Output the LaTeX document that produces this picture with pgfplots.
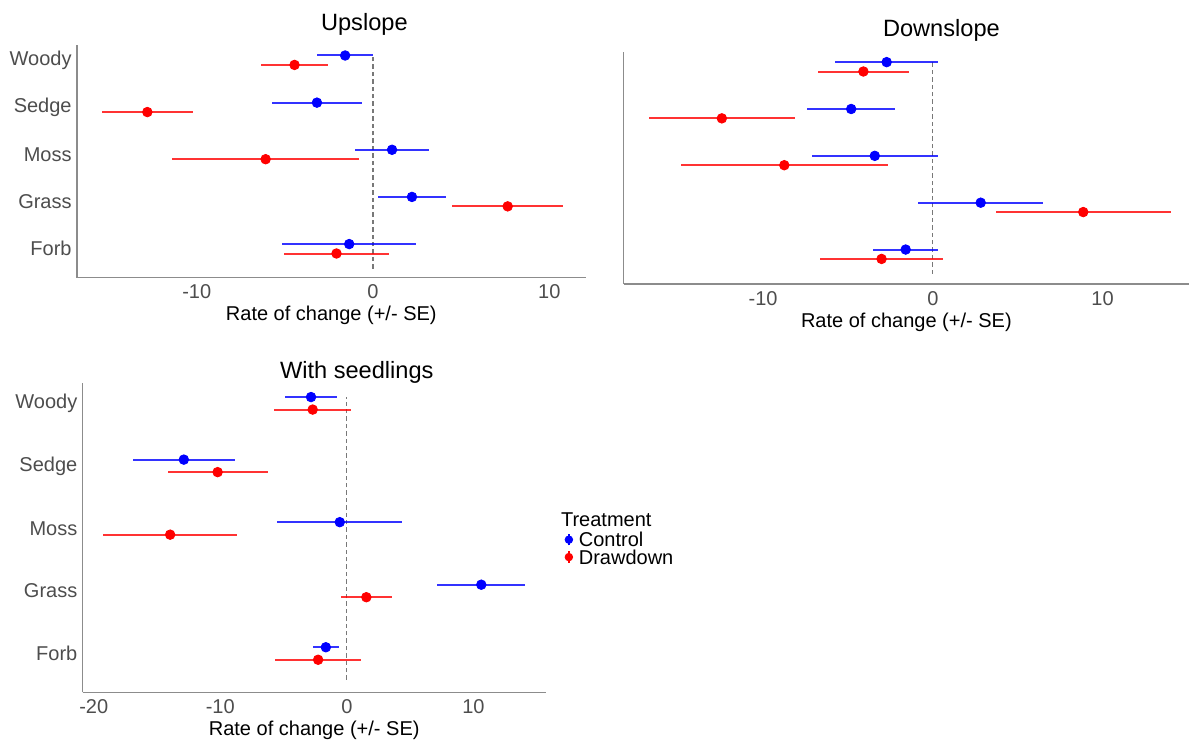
\documentclass[border=0pt]{standalone}
\usepackage{fontspec}
\setmainfont{Liberation Sans}
\usepackage{pgfplots}
\pgfplotsset{compat=1.18}
\usepackage{pgfplotstable}

\definecolor{ctrl}{RGB}{0,0,255}
\definecolor{drw}{RGB}{255,0,0}
\definecolor{axgray}{RGB}{140,140,140}
\definecolor{tickgray}{RGB}{77,77,77}
\definecolor{vgray}{RGB}{120,120,120}

% x = rate of change, y = category position (Forb=1 ... Woody=5, dodged), se = standard error
\pgfplotstableread{
x y se
-1.58 5.1 1.59
-3.18 4.1 2.53
1.08 3.1 2.10
2.21 2.1 1.95
-1.35 1.1 3.80
}\upC
\pgfplotstableread{
x y se
-4.45 4.9 1.90
-12.80 3.9 2.60
-6.09 2.9 5.31
7.64 1.9 3.14
-2.07 0.9 2.95
}\upD
\pgfplotstableread{
x y se
-2.72 5.1 3.03
-4.81 4.1 2.60
-3.42 3.1 3.71
2.82 2.1 3.68
-1.60 1.1 1.92
}\downC
\pgfplotstableread{
x y se
-4.09 4.9 2.69
-12.43 3.9 4.30
-8.75 2.9 6.09
8.86 1.9 5.16
-3.02 0.9 3.60
}\downD
\pgfplotstableread{
x y se
-2.83 5.1 2.02
-12.88 4.1 4.05
-0.56 3.1 4.95
10.62 2.1 3.48
-1.66 1.1 1.03
}\seedC
\pgfplotstableread{
x y se
-2.70 4.9 3.05
-10.21 3.9 3.96
-13.96 2.9 5.27
1.54 1.9 2.00
-2.27 0.9 3.38
}\seedD

\pgfplotsset{
  panel/.style={
    scale only axis,
    axis x line*=bottom, axis y line*=left,
    axis line style={axgray, line width=0.7pt, -},
    major tick length=0pt, minor tick num=0,
    tick label style={font=\fontsize{10}{12}\selectfont, text=tickgray},
    xticklabel style={anchor=base, yshift=-10.6pt},
    yticklabel style={anchor=east, inner sep=0pt, xshift=-2.5pt},
    ytick={1,2,3,4,5},
    yticklabels={Forb,Grass,Moss,Sedge,Woody},
    xlabel={Rate of change (+/- SE)},
    xlabel style={font=\fontsize{10}{12}\selectfont, at={(axis description cs:0.5,0)}, anchor=base, yshift=-21.6pt},
    title style={font=\fontsize{11.8}{14}\selectfont, anchor=base},
    clip=false,
  },
  ctrlplot/.style={only marks, mark=*, mark size=2.4pt, color=ctrl, forget plot,
    error bars/.cd, x dir=both, x explicit, error mark=none,
    error bar style={line width=1pt, ctrl, opacity=0.8}},
  drwplot/.style={only marks, mark=*, mark size=2.4pt, color=drw, forget plot,
    error bars/.cd, x dir=both, x explicit, error mark=none,
    error bar style={line width=1pt, drw, opacity=0.8}},
  zeroline/.style={forget plot, vgray, line width=0.55pt, dash pattern=on 2.2pt off 1.5pt},
}

\begin{document}
\begin{tikzpicture}
\useasboundingbox (0pt,0pt) rectangle (594.5pt,371pt);

% Upslope
\begin{axis}[panel,
  at={(38.5pt,232.15pt)}, anchor=south west,
  width=254.3pt, height=116.35pt,
  xmin=-16.79, xmax=12.06, ymin=0.387, ymax=5.323,
  xtick={-10,0,10}, xticklabels={-10,0,10},
  title={Upslope},
  title style={at={(axis description cs:0.565,1)}, yshift=1.45pt},
]
\addplot[zeroline] coordinates {(0,0.58) (0,5.1)};
\addplot[ctrlplot] table[x=x, y=y, x error=se] {\upC};
\addplot[drwplot] table[x=x, y=y, x error=se] {\upD};
\end{axis}

% Downslope
\begin{axis}[panel,
  at={(311.85pt,229pt)}, anchor=south west,
  width=282.65pt, height=116.15pt,
  xmin=-18.21, xmax=15.09, ymin=0.365, ymax=5.323,
  xtick={-10,0,10}, xticklabels={-10,0,10},
  ytick=\empty,
  title={Downslope},
  title style={at={(axis description cs:0.562,1)}, yshift=1.5pt},
]
\addplot[zeroline] coordinates {(0,0.58) (0,5.1)};
\addplot[ctrlplot] table[x=x, y=y, x error=se] {\downC};
\addplot[drwplot] table[x=x, y=y, x error=se] {\downD};
\end{axis}

% With seedlings
\begin{axis}[panel,
  at={(41.35pt,24.85pt)}, anchor=south west,
  width=231.5pt, height=154.8pt,
  xmin=-20.87, xmax=15.71, ymin=0.38, ymax=5.33,
  xtick={-20,-10,0,10}, xticklabels={-20,-10,0,10},
  title={With seedlings},
  title style={at={(axis description cs:0.592,1)}, yshift=-3.85pt},
  legend style={at={(axis description cs:1.041,0.521)}, anchor=north west,
    draw=none, fill=none, inner sep=0pt, outer sep=0pt, row sep=0pt,
    font=\fontsize{10}{12}\selectfont,
    nodes={inner sep=0.7pt, text height=7.3pt, text depth=0pt},
    /tikz/every odd column/.append style={column sep=2.2pt}},
  legend cell align=left,
]
\addplot[zeroline] coordinates {(0,0.58) (0,5.1)};
\addplot[ctrlplot] table[x=x, y=y, x error=se] {\seedC};
\addplot[drwplot] table[x=x, y=y, x error=se] {\seedD};
\addlegendimage{legend image code/.code={\draw[ctrl, line width=1pt] (0pt,-2.9pt)--(0pt,2.9pt); \fill[ctrl] (0pt,0pt) circle (1.9pt);}}
\addlegendentry{Control}
\addlegendimage{legend image code/.code={\draw[drw, line width=1pt] (0pt,-2.9pt)--(0pt,2.9pt); \fill[drw] (0pt,0pt) circle (1.9pt);}}
\addlegendentry{Drawdown}
\end{axis}

\node[anchor=base west, font=\fontsize{10}{12}\selectfont, inner sep=0pt] at (280.35pt,107.5pt) {Treatment};
\end{tikzpicture}
\end{document}
